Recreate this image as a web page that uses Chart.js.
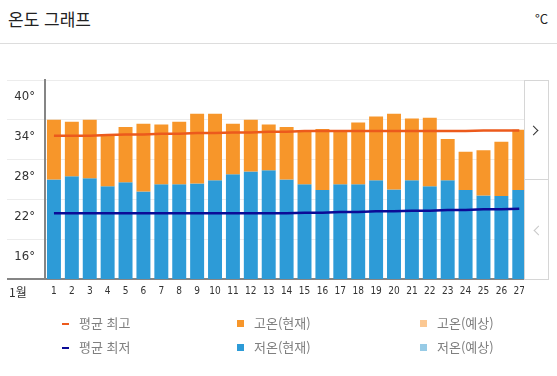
<!DOCTYPE html>
<html lang="ko">
<head>
<meta charset="utf-8">
<title>온도 그래프</title>
<script src="https://cdn.jsdelivr.net/npm/chart.js@4/dist/chart.umd.min.js"></script>
<style>
  body { margin: 0; width: 557px; height: 376px; background: #fff; position: relative; overflow: hidden;
         font-family: "Noto Sans CJK KR", "Noto Sans", sans-serif; }
  .title { position: absolute; left: 8px; top: 8px; font-size: 17px; color: #222; line-height: 22px; }
  .unit { position: absolute; right: 9px; top: 9px; font-size: 13px; color: #222; line-height: 20px; }
  .header-line { position: absolute; left: 0; top: 43px; width: 557px; height: 1px; background: #ddd; }
  .chart-clip { position: absolute; left: 0; top: 60px; width: 524px; height: 240px; overflow: hidden; }
  .chart-box { position: relative; width: 531px; height: 240px; }
  .month { position: absolute; left: 9px; top: 284px; font-size: 12px; color: #333; line-height: 16px; }
  .nav { position: absolute; left: 524px; top: 80px; width: 23px; height: 198px; border: 1px solid #d6d6d6; }
  .nav .divider { position: absolute; left: 0; top: 98px; width: 23px; height: 1px; background: #d6d6d6; }
  .chev { position: absolute; width: 6px; height: 6px; border-top: 1.5px solid #333; border-right: 1.5px solid #333; }
  .chev.next { left: 5px; top: 46px; transform: rotate(45deg); }
  .chev.prev { left: 10px; top: 146px; transform: rotate(-135deg); border-color: #c8c8c8; }
  .legend { position: absolute; left: 0; top: 313px; width: 557px; }
  .legend .item { position: absolute; font-size: 13px; color: #808080; line-height: 20px; white-space: nowrap; }
  .legend .mark { position: absolute; }
</style>
</head>
<body>
  <div class="title">온도 그래프</div>
  <div class="unit">°C</div>
  <div class="header-line"></div>

  <div class="chart-clip"><div class="chart-box"><canvas id="tempChart"></canvas></div></div>
  <div class="month">1월</div>
  <div class="nav"><div class="divider"></div><div class="chev next"></div><div class="chev prev"></div></div>

  <div class="legend" id="legend"></div>

<script>
// days of the month shown
const days = ["1","2","3","4","5","6","7","8","9","10","11","12","13","14","15","16","17","18","19","20","21","22","23","24","25","26","27"];

// daily high / low (current)
const highNow = [34.0, 33.7, 34.0, 31.8, 32.9, 33.4, 33.3, 33.7, 34.9, 34.9, 33.4, 34.0, 33.3, 32.9, 32.2, 32.6, 32.2, 33.6, 34.5, 34.9, 34.2, 34.3, 31.1, 29.2, 29.4, 30.7, 32.5];
const lowNow = [25.0, 25.5, 25.2, 24.0, 24.6, 23.2, 24.3, 24.3, 24.4, 24.9, 25.8, 26.2, 26.4, 25.0, 24.3, 23.4, 24.3, 24.3, 24.9, 23.5, 24.9, 24.0, 24.9, 23.4, 22.6, 22.5, 23.4];

// forecast values (none visible in this view)
const highForecast = [];
const lowForecast = [];

// average max / min lines
const avgHigh = [31.6, 31.6, 31.6, 31.7, 31.8, 31.8, 31.9, 31.9, 32.0, 32.0, 32.1, 32.1, 32.2, 32.2, 32.3, 32.3, 32.3, 32.3, 32.3, 32.3, 32.3, 32.3, 32.3, 32.3, 32.4, 32.4, 32.4];
const avgLow = [19.9, 19.9, 19.9, 19.9, 19.9, 19.9, 19.9, 19.9, 19.9, 19.9, 19.9, 19.9, 19.9, 19.9, 20.0, 20.0, 20.1, 20.1, 20.2, 20.2, 20.3, 20.3, 20.4, 20.4, 20.5, 20.5, 20.6];

// y axis ticks
const yTicks = [10, 16, 22, 28, 34, 40];

const Y_MIN = yTicks[0];
const Y_MAX = yTicks[yTicks.length - 1];

const colors = {
  avgHigh: "#ec5a1c",
  avgLow: "#0b0b96",
  highNow: "#f7962a",
  lowNow: "#2d9bd7",
  highForecast: "#fbc893",
  lowForecast: "#97cbe6"
};

document.addEventListener("DOMContentLoaded", () => {
  const ctx = document.getElementById("tempChart").getContext("2d");

  const datasets = [
    { type: "line", label: "평균 최고", data: avgHigh, borderColor: colors.avgHigh, backgroundColor: colors.avgHigh,
      borderWidth: 2.5, pointRadius: 0, tension: 0, marker: "line" },
    { type: "line", label: "평균 최저", data: avgLow, borderColor: colors.avgLow, backgroundColor: colors.avgLow,
      borderWidth: 2.5, pointRadius: 0, tension: 0, marker: "line" },
    { type: "bar", label: "고온(현재)", data: lowNow.map((l, i) => [l, highNow[i]]), backgroundColor: colors.highNow,
      grouped: false, barPercentage: 0.78, categoryPercentage: 1, marker: "box" },
    { type: "bar", label: "저온(현재)", data: lowNow.map((l) => [Y_MIN, l]), backgroundColor: colors.lowNow,
      grouped: false, barPercentage: 0.78, categoryPercentage: 1, marker: "box" },
    { type: "bar", label: "고온(예상)", data: highForecast, backgroundColor: colors.highForecast,
      grouped: false, barPercentage: 0.78, categoryPercentage: 1, marker: "box" },
    { type: "bar", label: "저온(예상)", data: lowForecast, backgroundColor: colors.lowForecast,
      grouped: false, barPercentage: 0.78, categoryPercentage: 1, marker: "box" }
  ];

  new Chart(ctx, {
    data: { labels: days, datasets: datasets },
    options: {
      responsive: true,
      maintainAspectRatio: false,
      animation: false,
      layout: { padding: { top: 20, right: 0, left: 0, bottom: 0 } },
      plugins: { legend: { display: false }, tooltip: { enabled: true } },
      scales: {
        x: {
          offset: true,
          grid: { display: false, drawTicks: false },
          border: { color: "#858585", width: 2 },
          ticks: { color: "#333", font: { size: 10, family: "'Liberation Sans Narrow', 'DejaVu Sans Condensed', sans-serif" }, padding: 6, autoSkip: false, maxRotation: 0 },
          afterFit: (scale) => { scale.height = 21; }
        },
        y: {
          min: Y_MIN,
          max: Y_MAX,
          afterBuildTicks: (scale) => { scale.ticks = yTicks.map((v) => ({ value: v })); },
          grid: {
            color: (c) => (c.tick && c.tick.value === Y_MIN ? "#858585" : "#ececec"),
            lineWidth: (c) => (c.tick && c.tick.value === Y_MIN ? 2 : 1),
            tickLength: 38
          },
          border: { color: "#858585", width: 2 },
          ticks: {
            color: "#333",
            font: { size: 13, family: "'Liberation Sans Narrow', 'DejaVu Sans Condensed', sans-serif" },
            padding: -28,
            labelOffset: 17,
            callback: (v) => (v === Y_MIN ? "" : v + "°")
          },
          afterFit: (scale) => { scale.width = 45; }
        }
      }
    }
  });

  // legend in three columns, two rows
  const legend = document.getElementById("legend");
  const colX = [62, 237, 420];
  const rowY = [0, 24];
  const placement = [[0, 0], [0, 1], [1, 0], [1, 1], [2, 0], [2, 1]];
  datasets.forEach((ds, i) => {
    const [c, r] = placement[i];
    const item = document.createElement("div");
    item.className = "item";
    item.style.left = colX[c] + "px";
    item.style.top = rowY[r] + "px";
    const mark = document.createElement("span");
    mark.className = "mark";
    mark.style.background = ds.backgroundColor;
    if (ds.marker === "line") {
      mark.style.left = "0px"; mark.style.top = "10px"; mark.style.width = "7px"; mark.style.height = "2px";
    } else {
      mark.style.left = "0px"; mark.style.top = "7px"; mark.style.width = "7px"; mark.style.height = "7px";
    }
    const text = document.createElement("span");
    text.textContent = ds.label;
    text.style.marginLeft = "17px";
    item.appendChild(mark);
    item.appendChild(text);
    legend.appendChild(item);
  });
});
</script>
</body>
</html>
